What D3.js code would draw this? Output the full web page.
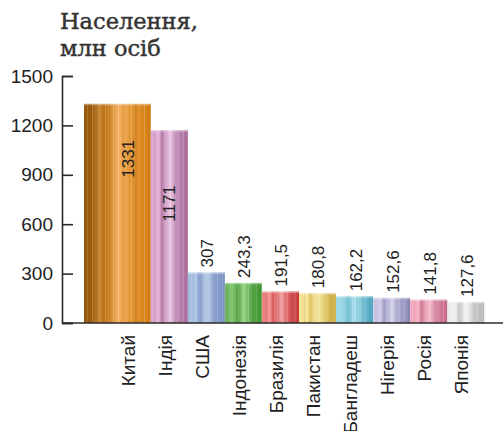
<!DOCTYPE html>
<html>
<head>
<meta charset="utf-8">
<script src="https://cdn.jsdelivr.net/npm/d3@7"></script>
<style>
  html, body { margin: 0; padding: 0; background: #fff; }
  svg { display: block; }
</style>
</head>
<body>
<svg id="chart" width="503" height="431"></svg>
<script>
// ---- data ----
const categories = ["Китай", "Індія", "США", "Індонезія", "Бразилія", "Пакистан", "Бангладеш", "Нігерія", "Росія", "Японія"];
const populations = [1331, 1171, 307, 243.3, 191.5, 180.8, 162.2, 152.6, 141.8, 127.6];
const valueLabels = ["1331", "1171", "307", "243,3", "191,5", "180,8", "162,2", "152,6", "141,8", "127,6"];
const yTicks = [0, 300, 600, 900, 1200, 1500];
const titleLines = ["Населення,", "млн осіб"];
// colours: [left, light, right]
const barColors = [
  ["#9a5a0c", "#f5b262", "#d67f14"],
  ["#d9a2cc", "#ecc6e4", "#a96a9a"],
  ["#a6bde0", "#b8cae6", "#7890c2"],
  ["#74bc62", "#98d486", "#3d922f"],
  ["#ee8282", "#f3a2a2", "#c83a3a"],
  ["#f6e28e", "#fbeca8", "#cfae40"],
  ["#96d6e6", "#aee2ee", "#4ea8c0"],
  ["#c8c4e4", "#d6d2ec", "#8a8ab8"],
  ["#f0a6ba", "#f6bccc", "#c66886"],
  ["#ececec", "#f4f4f4", "#b6b6b6"]
];

const svg = d3.select("#chart");
const axisX = 62, y0 = 323, yTop = 76;

const y = d3.scaleLinear().domain([0, 1500]).range([y0, yTop]);
const x = d3.scaleBand().domain(categories).range([113.7, 484.3]).padding(0);
const bw = x.bandwidth();
const firstExtra = 29.7; // first (China) bar is drawn wider

// gradients
const defs = svg.append("defs");
barColors.forEach((c, i) => {
  const g = defs.append("linearGradient").attr("id", "g" + i)
    .attr("x1", "0").attr("x2", "1").attr("y1", "0").attr("y2", "0");
  const stops = [
    [0, c[0]], [0.12, c[0]], [0.22, d3.interpolateRgb(c[0], c[1])(0.5)],
    [0.3, d3.interpolateRgb(c[0], c[2])(0.6)], [0.52, c[1]], [0.6, d3.interpolateRgb(c[1], c[2])(0.3)],
    [0.75, d3.interpolateRgb(c[1], c[2])(0.7)], [1, c[2]]
  ];
  stops.forEach(s => g.append("stop").attr("offset", s[0]).attr("stop-color", s[1]));
});
// subtle vertical streak texture
const pat = defs.append("pattern").attr("id", "streaks").attr("patternUnits", "userSpaceOnUse")
  .attr("width", 13).attr("height", 10);
pat.append("rect").attr("x", 1).attr("width", 1).attr("height", 10).attr("fill", "#fff").attr("opacity", 0.18);
pat.append("rect").attr("x", 5).attr("width", 1.5).attr("height", 10).attr("fill", "#000").attr("opacity", 0.06);
pat.append("rect").attr("x", 9).attr("width", 1).attr("height", 10).attr("fill", "#fff").attr("opacity", 0.12);

// title
svg.append("g").selectAll("text").data(titleLines).join("text")
  .attr("x", 60).attr("y", (d, i) => 29 + i * 27)
  .attr("font-family", "DejaVu Serif").attr("font-size", 22.5)
  .attr("fill", "#333").attr("stroke", "#333").attr("stroke-width", 0.45)
  .text(d => d);

// bars
const bars = svg.append("g");
categories.forEach((cat, i) => {
  const x0 = x(cat) - (i === 0 ? firstExtra : 0);
  const w = bw + (i === 0 ? firstExtra : 0);
  const top = y(populations[i]);
  bars.append("rect")
    .attr("x", x0).attr("y", top).attr("width", w).attr("height", y0 - top)
    .attr("fill", `url(#g${i})`);
  bars.append("rect")
    .attr("x", x0).attr("y", top).attr("width", w).attr("height", y0 - top)
    .attr("fill", "url(#streaks)");
  // light top rim
  bars.append("rect")
    .attr("x", x0).attr("y", top).attr("width", w).attr("height", 1.5)
    .attr("fill", "#fff").attr("opacity", 0.35);
});

// value labels
const vl = svg.append("g")
  .attr("font-family", "Liberation Sans, Arial, sans-serif")
  .attr("font-size", 17).attr("fill", "#222");
categories.forEach((cat, i) => {
  const top = y(populations[i]);
  const inside = i < 2;
  const cx = inside ? (i === 0 ? 128 - (x(cat) + bw / 2) : 0) + x(cat) + bw / 2 : x(cat) + bw / 2 + 1;
  const py = inside ? top + (i === 0 ? 36 : 55) : top - 5;
  vl.append("text")
    .attr("transform", `translate(${cx},${py}) rotate(-90)`)
    .attr("text-anchor", inside ? "end" : "start")
    .attr("dy", "0.35em")
    .text(valueLabels[i]);
});

// category labels
svg.append("g")
  .attr("font-family", "Liberation Sans, Arial, sans-serif")
  .attr("font-size", 19).attr("fill", "#222")
  .selectAll("text").data(categories).join("text")
  .attr("transform", d => `translate(${x(d) + bw / 2 - 4},335) rotate(-90)`)
  .attr("text-anchor", "end").attr("dy", "0.35em")
  .text(d => d);

// y axis
const axis = d3.axisLeft(y).tickValues(yTicks).tickSizeInner(-11).tickSizeOuter(-11).tickPadding(9)
  .tickFormat(d3.format("d"));
const ag = svg.append("g").attr("transform", `translate(${axisX},0)`).call(axis);
ag.selectAll("path, line").attr("stroke", "#2a2a2a").attr("stroke-width", 1.6);
ag.selectAll("text").attr("font-family", "Liberation Sans, Arial, sans-serif")
  .attr("font-size", 19).attr("fill", "#222");

// baseline
svg.append("line").attr("x1", axisX).attr("x2", 503).attr("y1", y(0)).attr("y2", y(0))
  .attr("stroke", "#2a2a2a").attr("stroke-width", 1.6);
</script>
</body>
</html>
